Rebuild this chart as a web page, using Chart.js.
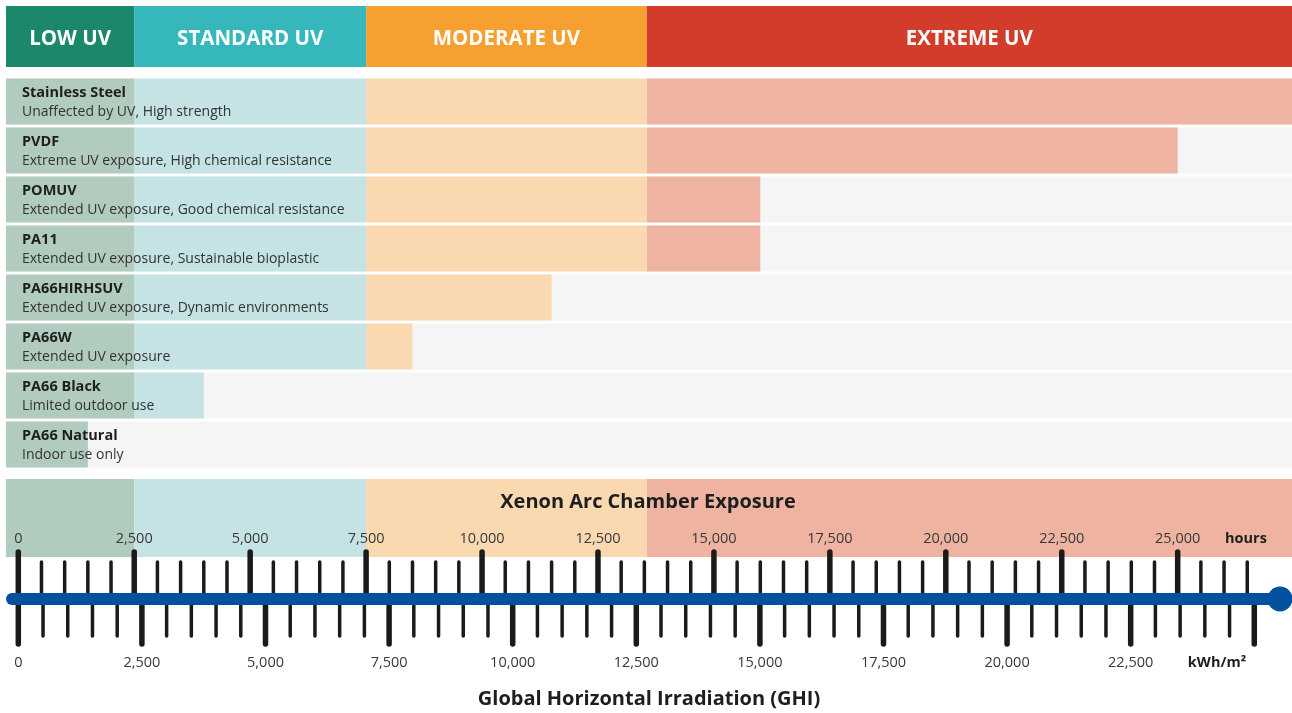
<!DOCTYPE html>
<html>
<head>
<meta charset="utf-8">
<script src="https://cdn.jsdelivr.net/npm/chart.js@4.4.1/dist/chart.umd.min.js"></script>
<style>
  html, body { margin: 0; padding: 0; background: #fff; }
  #wrap { position: relative; width: 1292px; height: 713px; }
</style>
</head>
<body>
<div id="wrap"><canvas id="uvChart"></canvas></div>
<script>
const materials = ["Stainless Steel", "PVDF", "POMUV", "PA11", "PA66HIRHSUV", "PA66W", "PA66 Black", "PA66 Natural"];
const descriptions = [
  "Unaffected by UV, High strength",
  "Extreme UV exposure, High chemical resistance",
  "Extended UV exposure, Good chemical resistance",
  "Extended UV exposure, Sustainable bioplastic",
  "Extended UV exposure, Dynamic environments",
  "Extended UV exposure",
  "Limited outdoor use",
  "Indoor use only"
];
// xenon arc hours each material holds up (stainless steel runs off the scale)
const ratingHours = [27465, 25000, 16000, 16000, 11500, 8500, 4000, 1500];

const zoneNames = ["LOW UV", "STANDARD UV", "MODERATE UV", "EXTREME UV"];
const zoneEdges = [-265, 2500, 7500, 13550, 27465];
const zoneColors = ["#1b886b", "#36b7bb", "#f5a031", "#d33c2b"];
const zoneLight = ["#b2cbbf", "#c5e3e4", "#fad9b1", "#eeb4a1"];

const hourLabels = [0, 2500, 5000, 7500, 10000, 12500, 15000, 17500, 20000, 22500, 25000];
const hourTickStep = 500;
const hourTickLast = 26500;
const kwhLabels = [0, 2500, 5000, 7500, 10000, 12500, 15000, 17500, 20000, 22500];
const kwhTickStep = 500;
const kwhTickLast = 25000;
const kwhRange = [-249, 25763];

const FONT = "'Open Sans', 'Noto Sans', sans-serif";
const fmt = v => v.toLocaleString("en-US");

const zoneSets = zoneNames.map((name, z) => ({
  label: name,
  data: ratingHours.map(r => r > zoneEdges[z] ? [zoneEdges[z], Math.min(r, zoneEdges[z + 1])] : null),
  backgroundColor: zoneLight[z],
  order: 1
}));

const rowBackground = {
  label: "row",
  data: materials.map(() => [zoneEdges[0], zoneEdges[zoneEdges.length - 1]]),
  backgroundColor: "#f5f5f5",
  order: 2
};

const decorations = {
  id: "decorations",
  beforeDatasetsDraw(chart) {
    const c = chart.ctx;
    const x = chart.scales.x;
    c.save();
    // header band
    zoneNames.forEach((name, z) => {
      const a = x.getPixelForValue(zoneEdges[z]);
      const b = x.getPixelForValue(zoneEdges[z + 1]);
      c.fillStyle = zoneColors[z];
      c.fillRect(a, 6, b - a, 61);
      c.fillStyle = "#fff";
      c.font = "bold 20.5px " + FONT;
      c.textAlign = "center";
      c.textBaseline = "middle";
      c.fillText(name, (a + b) / 2, 39);
      // bottom exposure band
      c.fillStyle = zoneLight[z];
      c.fillRect(a, 479, b - a, 78);
    });
    c.restore();
  },
  afterDatasetsDraw(chart) {
    const c = chart.ctx;
    const x = chart.scales.x;
    const y = chart.scales.y;
    const k = chart.scales.kwh;
    c.save();
    c.textBaseline = "middle";
    c.textAlign = "left";
    materials.forEach((m, i) => {
      const cy = y.getPixelForValue(i);
      c.fillStyle = "#1e1e1e";
      c.font = "bold 14.5px " + FONT;
      c.fillText(m, 22, cy - 8.5);
      c.fillStyle = "#333";
      c.font = "14px " + FONT;
      c.fillText(descriptions[i], 22, cy + 11);
    });

    const lineY = 599;
    c.strokeStyle = "#1a1a1a";
    c.lineCap = "round";
    // hours ticks above the line
    for (let v = 0; v <= hourTickLast; v += hourTickStep) {
      const major = v % 2500 === 0;
      const px = x.getPixelForValue(v);
      c.lineWidth = major ? 5.5 : 3.5;
      c.beginPath();
      c.moveTo(px, major ? 552 : 562);
      c.lineTo(px, lineY);
      c.stroke();
    }
    // kWh ticks below the line
    for (let v = 0; v <= kwhTickLast; v += kwhTickStep) {
      const major = v % 2500 === 0;
      const px = k.getPixelForValue(v);
      c.lineWidth = major ? 5.5 : 3.5;
      c.beginPath();
      c.moveTo(px, lineY);
      c.lineTo(px, major ? 644 : 636);
      c.stroke();
    }
    // blue timeline
    const end = x.getPixelForValue(zoneEdges[zoneEdges.length - 1]) - 12;
    c.strokeStyle = "#03509e";
    c.lineWidth = 12;
    c.beginPath();
    c.moveTo(12, lineY);
    c.lineTo(end, lineY);
    c.stroke();
    c.fillStyle = "#03509e";
    c.beginPath();
    c.arc(end, lineY, 12.5, 0, Math.PI * 2);
    c.fill();

    c.textAlign = "center";
    c.fillStyle = "#383838";
    c.font = "14.5px " + FONT;
    hourLabels.forEach(v => c.fillText(fmt(v), x.getPixelForValue(v), 539));
    kwhLabels.forEach(v => c.fillText(fmt(v), k.getPixelForValue(v), 663));
    c.fillStyle = "#1e1e1e";
    c.font = "bold 14.5px " + FONT;
    c.fillText("hours", 1246, 539);
    c.fillText("kWh/m\u00b2", 1217, 663);

    c.font = "bold 20px " + FONT;
    c.fillText("Xenon Arc Chamber Exposure", 648, 502);
    c.fillText("Global Horizontal Irradiation (GHI)", 649, 699);
    c.restore();
  }
};

new Chart(document.getElementById("uvChart"), {
  type: "bar",
  data: {
    labels: materials,
    datasets: [...zoneSets, rowBackground]
  },
  options: {
    indexAxis: "y",
    responsive: true,
    maintainAspectRatio: false,
    animation: false,
    layout: { padding: { left: 6, right: 0, top: 77, bottom: 244 } },
    datasets: { bar: { categoryPercentage: 1, barPercentage: 46 / 49, borderWidth: 0 } },
    plugins: { legend: { display: false }, tooltip: { enabled: false } },
    scales: {
      x: { type: "linear", min: zoneEdges[0], max: zoneEdges[zoneEdges.length - 1], display: false },
      kwh: { type: "linear", axis: "x", position: "bottom", min: kwhRange[0], max: kwhRange[1], display: false },
      y: { type: "category", stacked: true, display: false }
    }
  },
  plugins: [decorations]
});
</script>
</body>
</html>
